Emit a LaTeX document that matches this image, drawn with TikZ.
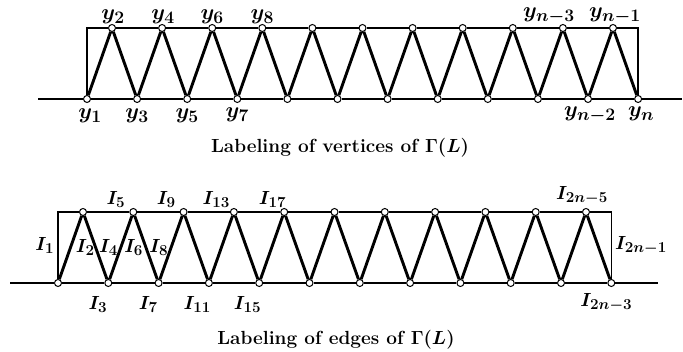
\RequirePackage{fix-cm}
\documentclass[tikz,border=0pt]{standalone}
\usepackage{amsmath}
\usepackage{tikz}
\usetikzlibrary{positioning}
\renewcommand{\defaultscriptratio}{.8}

\begin{document}
\begin{tikzpicture}[x=1pt, y=-1pt,
  vtx/.style={draw, fill=white, circle, inner sep=0pt, minimum size=7pt, line width=1pt},
  rung/.style={line width=2.9pt},
  rail/.style={line width=1.6pt},
  lbl/.style={font=\fontsize{19}{21}\selectfont\bfseries\boldmath, inner sep=1pt},
  vlbl/.style={font=\fontsize{22}{24}\selectfont\bfseries\boldmath, inner sep=1pt},
  captxt/.style={font=\fontsize{19}{22}\selectfont\bfseries\boldmath}
]
  \useasboundingbox (0,0) rectangle (683,352);
  % labeling of vertices
  \foreach \i in {1,...,12} \node[vtx] (vb\i) at ({87+50.1*(\i-1)},99) {};
  \foreach \i in {1,...,11} \node[vtx] (vt\i) at ({112+50.1*(\i-1)},28) {};
  \coordinate (vl) at (38,99);
  \coordinate (vr) at (682,99);
  \draw[rail] (vl) -- (vb1);
  \draw[rail] (vb12) -- (vr);
  \foreach \i [count=\j from 2] in {1,...,11} \draw[rail] (vb\i) -- (vb\j);
  \foreach \i [count=\j from 2] in {1,...,10} \draw[rail] (vt\i) -- (vt\j);
  \draw[rail] (vb1) |- (vt1);
  \draw[rail] (vt11) -| (vb12);
  \foreach \i [count=\j from 2] in {1,...,11} \draw[rung] (vb\i) -- (vt\i) -- (vb\j);
  \node[vlbl, above=-1pt of vt1, xshift=1pt] (y2) {$y_2$};
  \node[vlbl, above=-1pt of vt2, xshift=1pt] (y4) {$y_4$};
  \node[vlbl, above=-1pt of vt3] (y6) {$y_6$};
  \node[vlbl, above=-1pt of vt4] (y8) {$y_8$};
  \node[vlbl, above=-1pt of vt10, xshift=-14pt] (yn3) {$y_{n-3}$};
  \node[vlbl, above=-1pt of vt11, xshift=2pt] (yn1) {$y_{n-1}$};
  \node[vlbl, below=5pt of vb1, xshift=3pt] (y1) {$y_1$};
  \node[vlbl, below=5pt of vb2] (y3) {$y_3$};
  \node[vlbl, below=5pt of vb3] (y5) {$y_5$};
  \node[vlbl, below=4pt of vb4] (y7) {$y_7$};
  \node[vlbl, below=3pt of vb11, xshift=2pt] (yn2) {$y_{n-2}$};
  \node[vlbl, below=3pt of vb12, xshift=3pt] (yn) {$y_n$};
  \node[captxt] (capv) at (340,148) {Labeling of vertices of $\Gamma(L)$};

  % labeling of edges
  \foreach \i in {1,...,12} \node[vtx] (eb\i) at ({58+50.3*(\i-1)},283) {};
  \foreach \i in {1,...,11} \node[vtx] (et\i) at ({83+50.3*(\i-1)},212) {};
  \coordinate (el) at (10,283);
  \coordinate (er) at (658,283);
  \draw[rail] (el) -- (eb1);
  \draw[rail] (eb12) -- (er);
  \foreach \i [count=\j from 2] in {1,...,11} \draw[rail] (eb\i) -- (eb\j);
  \foreach \i [count=\j from 2] in {1,...,10} \draw[rail] (et\i) -- (et\j);
  \draw[rail] (eb1) |- node[lbl, pos=0.25, left=2pt] (i1) {$I_1$} (et1);
  \draw[rail] (et11) -| node[lbl, pos=0.75, right=2pt] (i2n1) {$I_{2n-1}$} (eb12);
  \draw[rung] (eb1) -- node[lbl, right=3pt] (i2) {$I_2$} (et1)
    -- node[lbl, right=1pt] (i4) {$I_4$} (eb2)
    -- node[lbl, right=1pt] (i6) {$I_6$} (et2)
    -- node[lbl, right=1pt] (i8) {$I_8$} (eb3);
  \foreach \i [count=\j from 4] in {3,...,11} \draw[rung] (eb\i) -- (et\i) -- (eb\j);
  \node[lbl, above left=0pt and 4pt of et2] (i5) {$I_5$};
  \node[lbl, above left=0pt and 4pt of et3] (i9) {$I_9$};
  \node[lbl, above left=0pt and 0pt of et4] (i13) {$I_{13}$};
  \node[lbl, above left=0pt and -6pt of et5] (i17) {$I_{17}$};
  \node[lbl, above=2pt of et11, xshift=-4pt] (i2n5) {$I_{2n-5}$};
  \node[lbl, below left=9pt and -3pt of eb2] (i3) {$I_3$};
  \node[lbl, below left=9pt and -3pt of eb3] (i7) {$I_7$};
  \node[lbl, below left=9pt and -6pt of eb4] (i11) {$I_{11}$};
  \node[lbl, below left=9pt and -6pt of eb5] (i15) {$I_{15}$};
  \node[lbl, below=5pt of eb12, xshift=-5pt] (i2n3) {$I_{2n-3}$};
  \node[captxt] (cape) at (336,340) {Labeling of edges of $\Gamma(L)$};
\end{tikzpicture}
\end{document}
